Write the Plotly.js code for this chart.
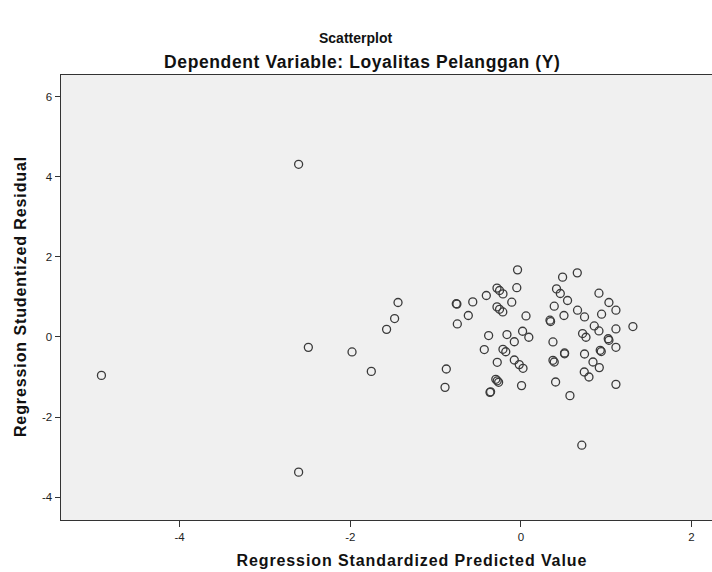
<!DOCTYPE html>
<html>
<head>
<meta charset="utf-8">
<script src="https://cdn.plot.ly/plotly-3.0.1.min.js"></script>
<style>
html,body{margin:0;padding:0;background:#fff;overflow:hidden;}
#chart{width:712px;height:572px;}
g.annotation[data-index="1"] text{letter-spacing:0.6px;}
g.annotation[data-index="2"] text{letter-spacing:0.9px;}
g.annotation[data-index="3"] text{letter-spacing:0.9px;}
</style>
</head>
<body>
<div id="chart"></div>
<script>
// Regression Standardized Predicted Value
var predicted = [
  -2.605, -1.44, -1.48, -1.574, -2.491, -1.979, -1.753, -4.916, -2.605,
  -0.039, -0.28, -0.25, -0.21, -0.048, -0.405, -0.564, -0.757, -0.750, -0.107,
  -0.28, -0.25, -0.212, -0.616, 0.06, -0.745, -0.378, -0.163, 0.02, 0.093,
  -0.077, -0.429, -0.21, -0.177, -0.277, -0.077, -0.019, 0.025, -0.874, -0.889,
  -0.294, -0.277, -0.261, -0.362, -0.355, 0.008,
  0.661, 0.489, 0.418, 0.462, 0.547, 0.915, 0.391, 1.032, 1.114, 0.664,
  0.746, 0.946, 0.505, 0.341, 0.348, 0.86, 0.915, 1.114, 1.313, 0.723,
  0.763, 0.376, 1.024, 1.032, 1.114, 0.93, 0.942, 0.512, 0.512, 0.746,
  0.376, 0.391, 0.845, 0.919, 0.743, 0.798, 0.407, 1.114, 0.575, 0.714
];
// Regression Studentized Residual
var residual = [
  4.31, 0.86, 0.46, 0.19, -0.26, -0.375, -0.86, -0.96, -3.375,
  1.675, 1.22, 1.16, 1.075, 1.23, 1.035, 0.875, 0.83, 0.82, 0.868,
  0.75, 0.69, 0.625, 0.535, 0.525, 0.325, 0.035, 0.06, 0.143, -0.008,
  -0.12, -0.315, -0.308, -0.37, -0.633, -0.575, -0.69, -0.783, -0.8, -1.258,
  -1.058, -1.095, -1.133, -1.383, -1.37, -1.215,
  1.6, 1.493, 1.2, 1.085, 0.91, 1.093, 0.768, 0.86, 0.668, 0.668,
  0.5, 0.568, 0.535, 0.418, 0.385, 0.275, 0.15, 0.2, 0.26, 0.085,
  -0.008, -0.125, -0.045, -0.083, -0.258, -0.333, -0.365, -0.4, -0.42, -0.425,
  -0.583, -0.625, -0.625, -0.765, -0.875, -1.0, -1.125, -1.183, -1.465, -2.703
];
var xTicks = [-4, -2, 0, 2];
var yTicks = [-4, -2, 0, 2, 4, 6];

var trace = {
  x: predicted,
  y: residual,
  type: 'scatter',
  mode: 'markers',
  marker: {
    symbol: 'circle-open',
    size: 8,
    color: '#3a3a3a',
    line: {width: 1.3, color: '#3a3a3a'}
  },
  hoverinfo: 'x+y'
};

var fontFam = '"Liberation Sans", Arial, sans-serif';

var layout = {
  width: 712,
  height: 572,
  margin: {l: 61, r: 0, t: 75, b: 52},
  paper_bgcolor: '#ffffff',
  plot_bgcolor: '#f0f0f0',
  showlegend: false,
  font: {family: fontFam, color: '#222', size: 11},
  xaxis: {
    range: [-5.39, 2.24],
    tickvals: xTicks,
    ticktext: xTicks.map(String),
    ticks: 'outside',
    ticklen: 6,
    tickcolor: '#333',
    showline: true,
    linecolor: '#333',
    linewidth: 1,
    mirror: true,
    showgrid: false,
    zeroline: false,
    tickfont: {family: fontFam, size: 11.5, color: '#222'}
  },
  yaxis: {
    range: [-4.57, 6.54],
    tickvals: yTicks,
    ticktext: yTicks.map(String),
    ticks: 'outside',
    ticklen: 5,
    tickcolor: '#333',
    showline: true,
    linecolor: '#333',
    linewidth: 1.5,
    showgrid: false,
    zeroline: false,
    tickfont: {family: fontFam, size: 11.5, color: '#222'}
  },
  annotations: [
    {text: '<b>Scatterplot</b>', xref: 'paper', yref: 'paper', x: 0.453, y: 1.083,
     xanchor: 'center', yanchor: 'middle', showarrow: false,
     font: {family: fontFam, size: 14, color: '#111'}},
    {text: '<b>Dependent Variable: Loyalitas Pelanggan (Y)</b>', xref: 'paper', yref: 'paper', x: 0.4634, y: 1.029,
     xanchor: 'center', yanchor: 'middle', showarrow: false,
     font: {family: fontFam, size: 17.5, color: '#111'}},
    {text: '<b>Regression Standardized Predicted Value</b>', xref: 'paper', yref: 'paper', x: 0.539, y: -0.092,
     xanchor: 'center', yanchor: 'middle', showarrow: false,
     font: {family: fontFam, size: 16, color: '#111'}},
    {text: '<b>Regression Studentized Residual</b>', xref: 'paper', yref: 'paper', x: -0.063, y: 0.503,
     xanchor: 'center', yanchor: 'middle', showarrow: false, textangle: -90,
     font: {family: fontFam, size: 16, color: '#111'}}
  ]
};

Plotly.newPlot('chart', [trace], layout, {displayModeBar: false, staticPlot: true});
</script>
</body>
</html>
